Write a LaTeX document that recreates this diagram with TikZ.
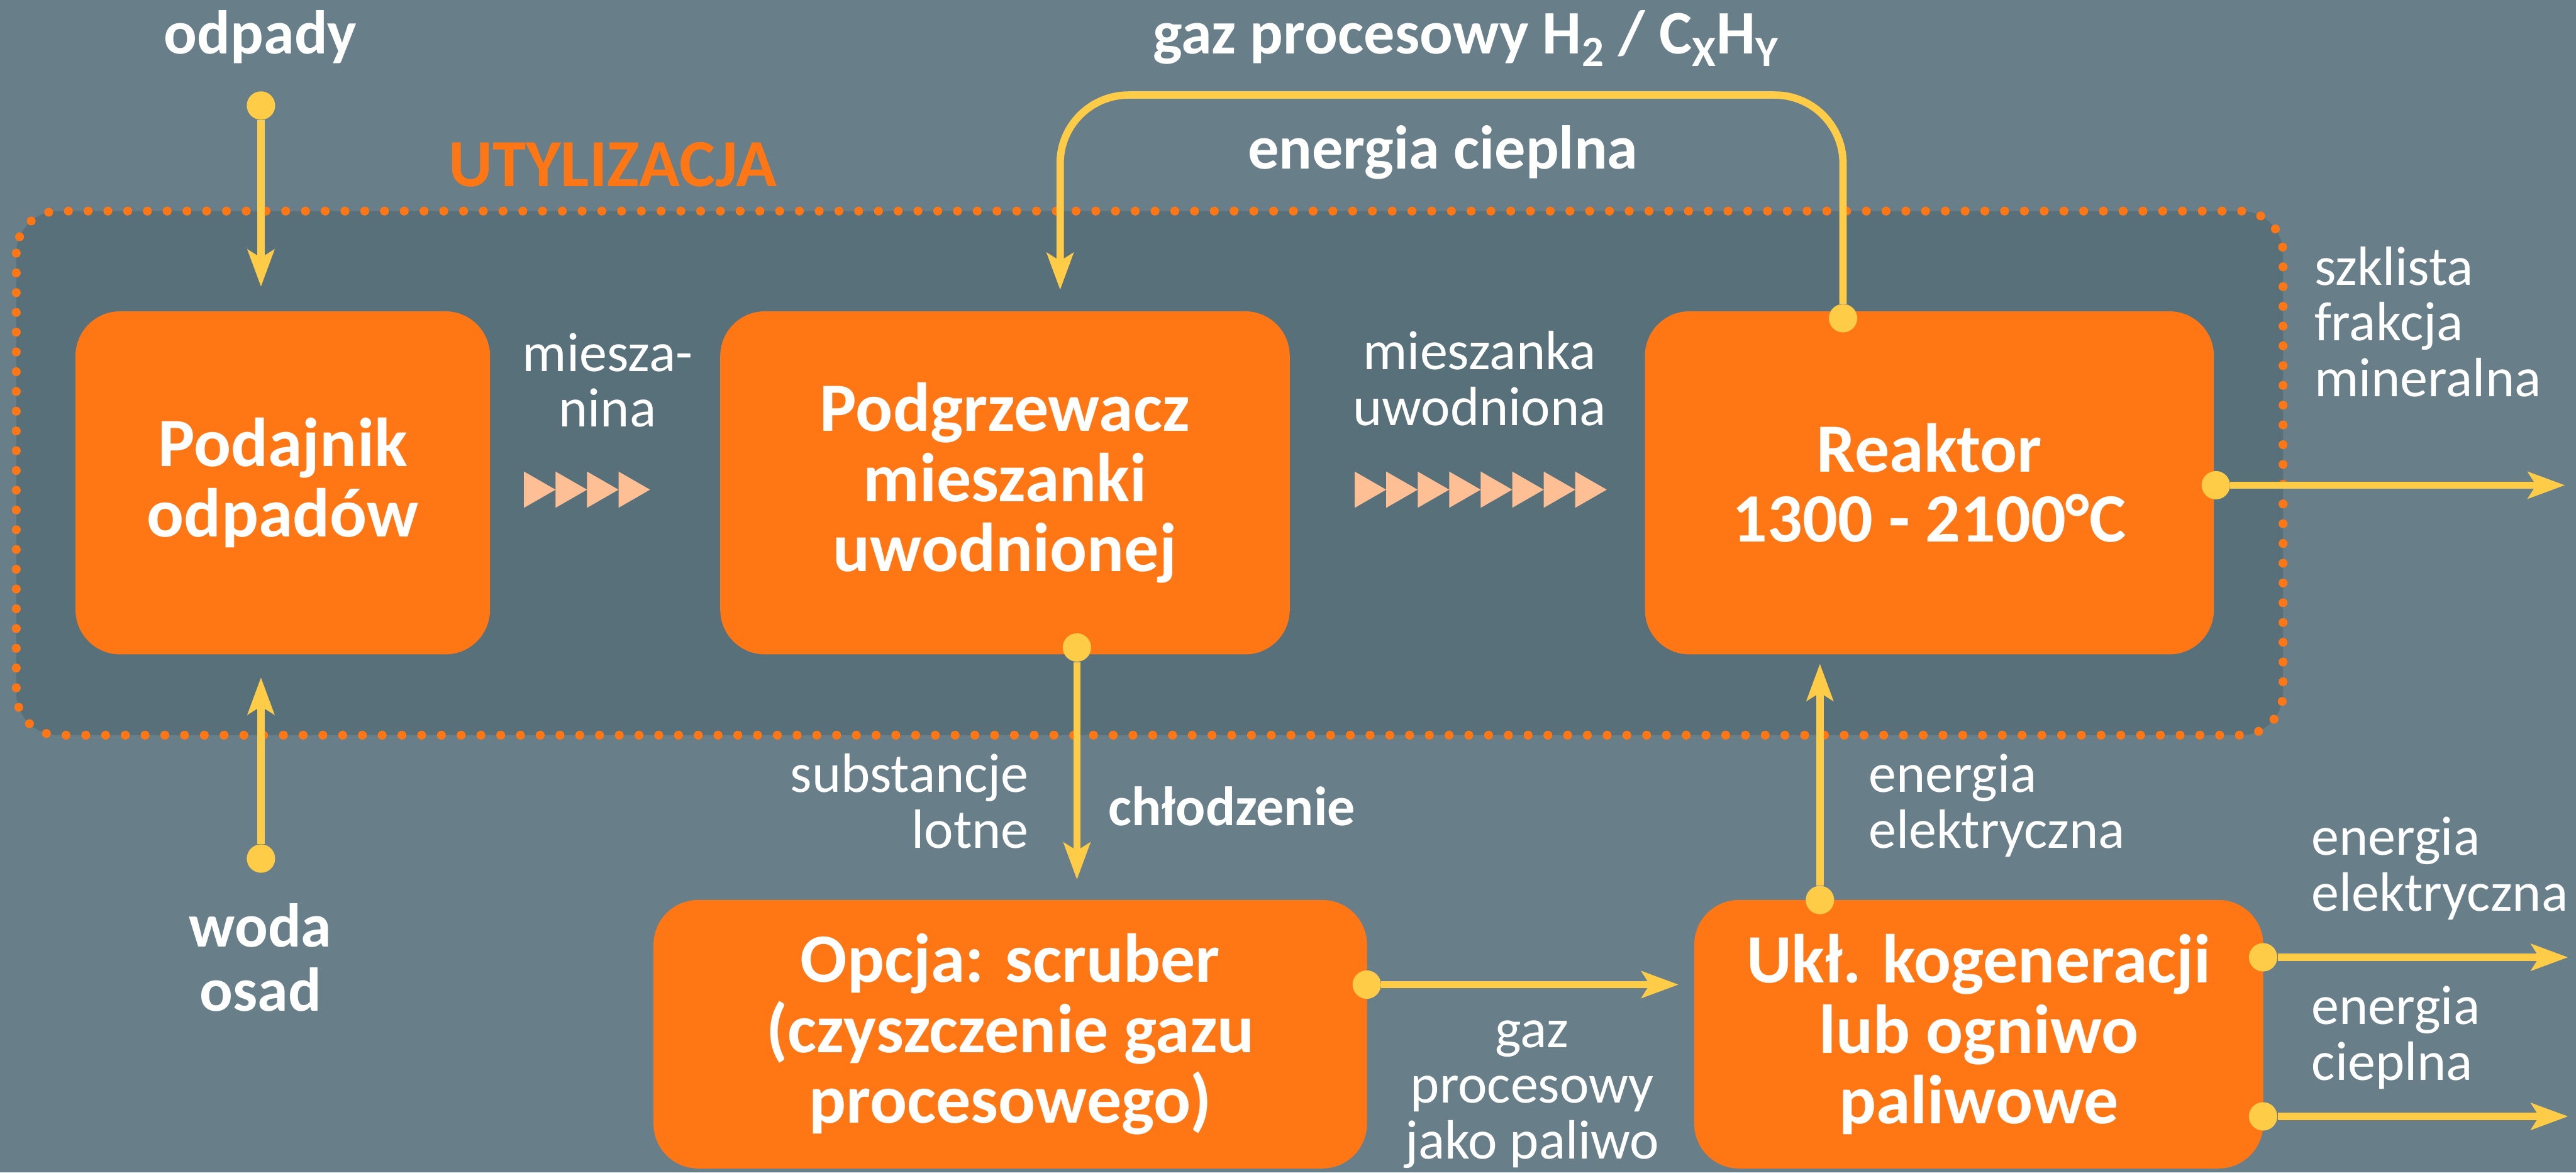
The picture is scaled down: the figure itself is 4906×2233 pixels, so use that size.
\documentclass[tikz,border=0pt]{standalone}
\usepackage{fontspec}
\setmainfont{Carlito}
\usetikzlibrary{arrows.meta}
\definecolor{bgSlate}{HTML}{687F89}
\definecolor{bgInner}{HTML}{57707A}
\definecolor{boxOrange}{HTML}{FF7715}
\definecolor{flowYellow}{HTML}{FFCC47}
\definecolor{triPeach}{HTML}{FFBF94}
\begin{document}
\begin{tikzpicture}[x=0.01cm, y=-0.01cm, blk/.style={fill=boxOrange, rounded corners=0.85cm, inner sep=0pt, align=center, text=white, font=\fontsize{37.5}{38.1}\selectfont\bfseries, minimum height=6.53cm}, lbl/.style={text=white, inner sep=0pt, font=\fontsize{30}{30.2}\selectfont}, blbl/.style={text=white, inner sep=0pt, font=\fontsize{33.5}{34.7}\selectfont\bfseries}, flow/.style={draw=flowYellow, line width=4pt, -{Stealth[length=0.7cm, width=0.5cm, inset=0.15cm]}}, dot/.style={circle, fill=flowYellow, minimum size=0.54cm, inner sep=0pt}]
\useasboundingbox (0,0) rectangle (4906,2233);
\fill[bgSlate] (0,0) rectangle (4906,2233);
\draw[draw=boxOrange, fill=bgInner, rounded corners=0.8cm, line width=4.8pt, line cap=round, dash pattern=on 0pt off 10.7pt] (31,402) rectangle (4348,1400);
\foreach \i in {0,...,3} \fill[triPeach] ({998+60*\i},898) -- ({1058+60*\i},932.5) -- ({998+60*\i},967) -- cycle;
\foreach \i in {0,...,7} \fill[triPeach] ({2580+60*\i},898) -- ({2640+60*\i},932.5) -- ({2580+60*\i},967) -- cycle;
\node[blk, minimum width=7.89cm] (feed) at (538.5,919.5) {Podajnik\\odpadów};
\node[blk, minimum width=10.84cm] (heat) at (1914,919.5) {Podgrzewacz\\mieszanki\\uwodnionej};
\node[blk, minimum width=10.83cm] (reac) at (3674.5,919.5) {Reaktor\\1300 - 2100°C};
\node[blk, minimum width=13.58cm, minimum height=5.11cm] (scrub) at (1924,1969.5) {Opcja: scruber\\(czyszczenie gazu\\procesowego)};
\node[blk, minimum width=10.83cm, minimum height=5.11cm] (chp) at (3768.5,1969.5) {Ukł. kogeneracji\\lub ogniwo\\paliwowe};
\node[dot] (dIn) at (497,201) {}; \node[dot] (dWater) at (497,1635) {};
\node[dot] (dLoop) at (3510,606) {}; \node[dot] (dHeat) at (2051,1233) {};
\node[dot] (dSlag) at (4220,924) {}; \node[dot] (dGas) at (2603,1875) {};
\node[dot] (dElec) at (3466,1714) {}; \node[dot] (dOutE) at (4310,1823) {}; \node[dot] (dOutH) at (4310,2126) {};
\coordinate (loopR) at (3510,181); \coordinate (loopL) at (2019,181);
\coordinate (eSlag) at (4885,924); \coordinate (eOutE) at (4891,1823); \coordinate (eOutH) at (4891,2126);
\draw[flow, shorten >=0.46cm] (dIn) -- (dIn |- feed.north);
\draw[flow, shorten >=0.43cm] (dWater) -- (dWater |- feed.south);
\draw[flow, rounded corners=1.3cm, shorten >=0.4cm] (dLoop) -- (loopR) -- (loopL) -- (loopL |- heat.north);
\draw[flow, shorten >=0.38cm] (dHeat) -- (dHeat |- scrub.north);
\draw[flow] (dSlag) -- (eSlag);
\draw[flow, shorten >=0.29cm] (dGas) -- (dGas -| chp.west);
\draw[flow, shorten >=0.17cm] (dElec) -- (dElec |- reac.south);
\draw[flow] (dOutE) -- (eOutE); \draw[flow] (dOutH) -- (eOutH);
\node[blbl, anchor=base] (lWaste) at (496,103) {odpady};
\node[blbl, anchor=base, align=center] (lWater) at (496,1925) {woda\\osad};
\node[text=boxOrange, inner sep=0pt, font=\fontsize{36.5}{38}\selectfont\bfseries, anchor=base] (lZone) at (1167,355) {UTYLIZACJA};
\node[blbl, anchor=base] (lGas) at (2792,103) {gaz procesowy H\textsubscript{2} / C\textsubscript{X}H\textsubscript{Y}};
\node[blbl, anchor=base] (lHeatE) at (2748,321) {energia cieplna};
\node[lbl, anchor=base, align=center] (lMix) at (1157,813) {miesza-\\nina};
\node[lbl, anchor=base, align=center] (lMixW) at (2818,810) {mieszanka\\uwodniona};
\node[lbl, anchor=base west, align=left] (lSlag) at (4407,755) {szklista\\frakcja\\mineralna};
\node[lbl, anchor=base east, align=right] (lVol) at (1960,1615) {substancje\\lotne};
\node[lbl, font=\fontsize{30}{30.2}\selectfont\bfseries, anchor=base west] (lCool) at (2110,1572) {chłodzenie};
\node[lbl, anchor=base, align=center] (lFuel) at (2918,2207) {gaz\\procesowy\\jako paliwo};
\node[lbl, anchor=base west, align=left] (lElecIn) at (3558,1615) {energia\\elektryczna};
\node[lbl, anchor=base west, align=left] (lElecOut) at (4402,1735) {energia\\elektryczna};
\node[lbl, anchor=base west, align=left] (lHeatOut) at (4402,2057) {energia\\cieplna};
\end{tikzpicture}
\end{document}
